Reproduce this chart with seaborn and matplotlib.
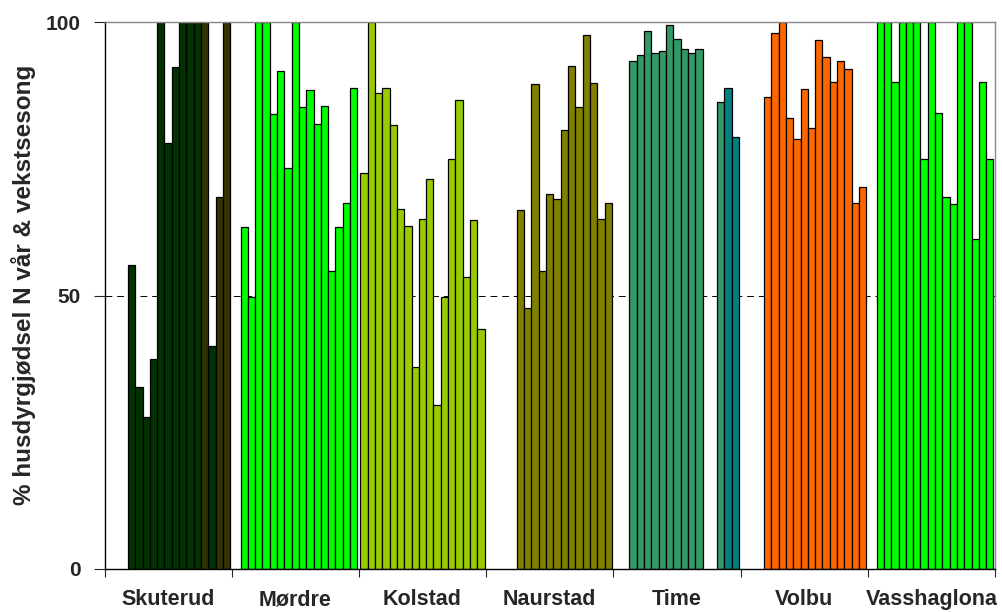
import numpy as np
import pandas as pd
import matplotlib
matplotlib.use('Agg')
import matplotlib.pyplot as plt
import seaborn as sns

nan = np.nan

# sites along the x axis, 17 seasons (slots) per site, empty slot = nan
sites = ['Skuterud', 'Mørdre', 'Kolstad', 'Naurstad', 'Time', 'Volbu', 'Vasshaglona']
n_slots = 17

skuterud = [nan, nan, nan, 55.6, 33.3, 27.8, 38.4, 100, 77.8, 91.7, 100, 100, 100, 100, 40.8, 68.0, 100]
mordre = [nan, 62.5, 49.8, 100, 100, 83.2, 91.0, 73.3, 100, 84.5, 87.5, 81.4, 84.7, 54.5, 62.5, 67.0, 88.0]
kolstad = [72.4, 100, 87.0, 87.9, 81.2, 65.9, 62.7, 36.9, 64.0, 71.3, 30.0, 49.8, 74.9, 85.7, 53.4, 63.8, 43.8]
naurstad = [nan, nan, nan, nan, 65.6, 47.8, 88.7, 54.5, 68.5, 67.7, 80.3, 91.9, 84.5, 97.6, 88.9, 63.9, 66.9]
time = [nan, nan, 92.9, 94.0, 98.3, 94.4, 94.7, 99.4, 96.9, 95.0, 94.4, 95.0, nan, nan, 85.4, 88.0, 79.0]
volbu = [nan, nan, nan, 86.2, 97.9, 100, 82.4, 78.7, 87.8, 80.7, 96.7, 93.6, 89.1, 92.8, 91.4, 66.9, 69.8]
vasshaglona = [nan, 100, 100, 89.0, 100, 100, 100, 74.9, 100, 83.3, 68.0, 66.7, 100, 100, 60.3, 89.0, 74.9]

series = [skuterud, mordre, kolstad, naurstad, time, volbu, vasshaglona]

# colours
base_colors = {
    'Skuterud': '#003300',
    'Mørdre': '#00FF00',
    'Kolstad': '#99CC00',
    'Naurstad': '#808000',
    'Time': '#339966',
    'Volbu': '#FF6600',
    'Vasshaglona': '#00FF00',
}
special_colors = {
    ('Skuterud', 13): '#333300',
    ('Skuterud', 15): '#333300',
    ('Skuterud', 16): '#333300',
    ('Time', 15): '#008080',
    ('Time', 16): '#008080',
}

slots = [str(i + 1) for i in range(n_slots)]
rows = []
for site, vals in zip(sites, series):
    for slot, v in zip(slots, vals):
        rows.append((site, slot, v))
df = pd.DataFrame(rows, columns=['site', 'slot', 'pct']).dropna()

sns.set_style('ticks')
plt.rcParams['font.family'] = ['Liberation Sans', 'DejaVu Sans']
plt.rcParams['font.weight'] = 'bold'

fig = plt.figure(figsize=(10.02, 6.12), dpi=100)
ax = fig.add_axes([104.5 / 1002, 1 - 569 / 612, (995 - 104.5) / 1002, (569 - 22) / 612])

W = 0.976
sns.barplot(data=df, x='site', y='pct', hue='slot', order=sites, hue_order=slots,
            width=W, dodge=True, errorbar=None, legend=False, saturation=1,
            palette=['#808080'] * n_slots, edgecolor='black', linewidth=0.9, ax=ax)

# colour each bar by site (and a few odd ones)
for p in ax.patches:
    h = p.get_height()
    if not np.isfinite(h) or h == 0:
        continue
    cx = p.get_x() + p.get_width() / 2
    ci = int(round(cx))
    si = int(np.floor((cx - (ci - W / 2)) / (W / n_slots)))
    site = sites[ci]
    p.set_facecolor(special_colors.get((site, si), base_colors[site]))
    p.set_zorder(2)

ax.axhline(50, color='black', lw=0.7, ls=(0, (7, 5)), zorder=1)

ax.set_xlim(-0.5, len(sites) - 0.5)
ax.set_ylim(0, 100)
ax.set_yticks([0, 50, 100])
ax.set_yticklabels(['0', '50', '100'], fontsize=15, fontweight='bold')

ax.set_xticks(np.arange(-0.5, len(sites)), labels=[''] * (len(sites) + 1))
ax.set_xticks(np.arange(len(sites)), labels=sites, minor=True)
ax.tick_params(axis='x', which='major', length=6, width=0.8, direction='out')
ax.tick_params(axis='x', which='minor', length=0, pad=26)
for t in ax.get_xticklabels(minor=True):
    t.set_fontsize(15.5)
    t.set_fontweight('bold')
    t.set_verticalalignment('baseline')
ax.tick_params(axis='y', length=8, width=0.8, pad=9)

ax.set_xlabel('')
ax.set_ylabel('% husdyrgjødsel N vår & vekstsesong', fontsize=17.5, fontweight='bold')
ax.yaxis.set_label_coords(-0.077, 0.52)

for side in ['left', 'bottom']:
    ax.spines[side].set_color('black')
    ax.spines[side].set_linewidth(1)
for side in ['top', 'right']:
    ax.spines[side].set_visible(True)
    ax.spines[side].set_color('#888888')
    ax.spines[side].set_linewidth(1)

fig.savefig('out.png', dpi=100)
